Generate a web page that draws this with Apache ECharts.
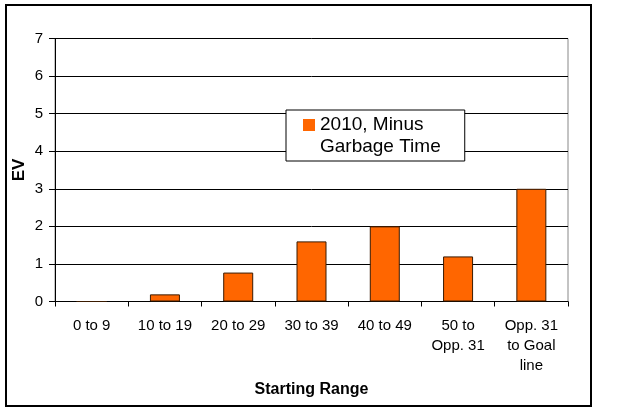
<!DOCTYPE html>
<html>
<head>
<meta charset="utf-8">
<script src="https://cdn.jsdelivr.net/npm/echarts@6/dist/echarts.min.js"></script>
<style>
html,body{margin:0;padding:0;background:#fff;}
#chart{width:640px;height:411px;}
</style>
</head>
<body>
<div id="chart"></div>
<script>
var categories = ['0 to 9', '10 to 19', '20 to 29', '30 to 39', '40 to 49', '50 to\nOpp. 31', 'Opp. 31\nto Goal\nline'];
var seriesName = '2010, Minus Garbage Time';
var evValues = [0, 0.19, 0.77, 1.6, 2.0, 1.2, 3.0];
var yTicks = [0, 1, 2, 3, 4, 5, 6, 7];

var chart = echarts.init(document.getElementById('chart'), null, {renderer: 'canvas'});
var font = 'Liberation Sans, Arial, sans-serif';
chart.setOption({
  backgroundColor: '#ffffff',
  animation: false,
  textStyle: {fontFamily: font},
  graphic: [{
    type: 'rect', silent: true, z: -1,
    shape: {x: 6, y: 5, width: 585, height: 401},
    style: {fill: 'none', stroke: '#000', lineWidth: 2}
  }],
  grid: {left: 55, top: 38.5, width: 513, height: 263, show: true, borderColor: '#888', borderWidth: 1, backgroundColor: 'transparent'},
  legend: {
    left: 286, top: 110,
    orient: 'vertical',
    backgroundColor: '#fff',
    borderColor: '#000', borderWidth: 1,
    padding: [4, 24, 3, 17],
    itemWidth: 12, itemHeight: 34,
    icon: 'path://M0,0L12,0L12,12L0,12Z M0,34L0.01,34Z',
    itemStyle: {borderWidth: 0},
    formatter: function () { return '2010, Minus\nGarbage Time'; },
    textStyle: {fontSize: 19, lineHeight: 22, color: '#000', fontFamily: font}
  },
  xAxis: {
    type: 'category',
    data: categories,
    name: 'Starting Range',
    nameLocation: 'middle',
    nameGap: 80,
    nameTextStyle: {fontSize: 16, fontWeight: 'bold', color: '#000', fontFamily: font},
    axisLine: {lineStyle: {color: '#000', width: 1}},
    axisTick: {show: true, length: 5, lineStyle: {color: '#000'}},
    axisLabel: {fontSize: 15, color: '#000', lineHeight: 20, margin: 14, interval: 0, fontFamily: font},
    splitLine: {show: false}
  },
  yAxis: {
    type: 'value',
    min: yTicks[0], max: yTicks[yTicks.length - 1], interval: 1,
    name: 'EV',
    nameLocation: 'middle',
    nameGap: 27,
    nameMoveOverlap: false,
    nameRotate: 90,
    nameTextStyle: {fontSize: 17, fontWeight: 'bold', color: '#000', fontFamily: font},
    axisLine: {show: true, lineStyle: {color: '#000', width: 1}},
    axisTick: {show: true, length: 6, lineStyle: {color: '#000'}},
    axisLabel: {fontSize: 15, color: '#000', margin: 12, fontFamily: font},
    splitLine: {show: true, lineStyle: {color: '#000', width: 1}}
  },
  series: [{
    name: seriesName,
    type: 'bar',
    data: evValues,
    barWidth: 30,
    itemStyle: {color: '#FF6600', borderColor: '#3a1a00', borderWidth: 1}
  }]
});
</script>
</body>
</html>
